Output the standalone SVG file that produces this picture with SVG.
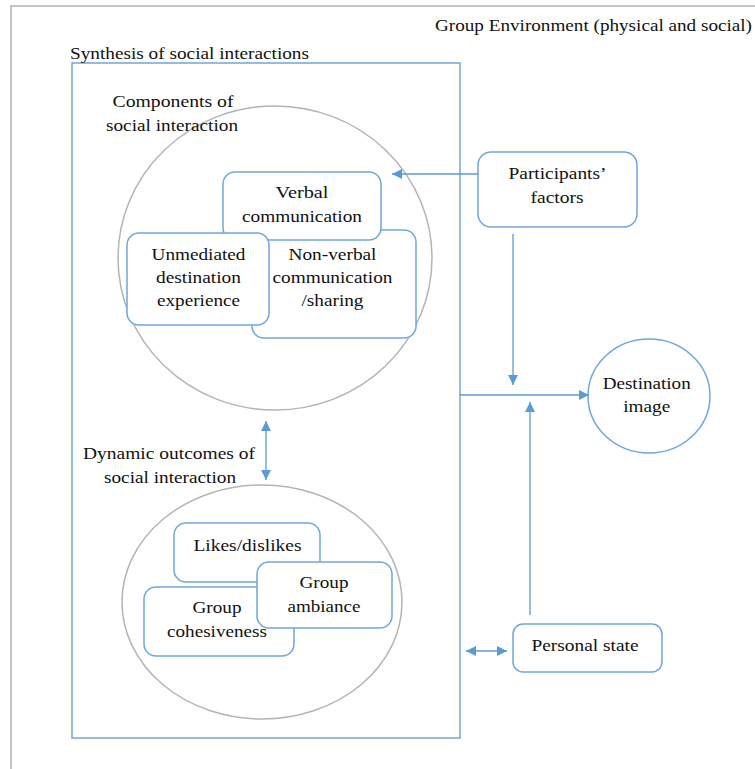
<svg xmlns="http://www.w3.org/2000/svg" width="755" height="769" viewBox="0 0 755 769">
  <defs>
    <marker id="arrow" viewBox="0 0 10 10" refX="10" refY="5" markerWidth="10" markerHeight="10" markerUnits="userSpaceOnUse" orient="auto-start-reverse">
      <path d="M0,0 L10,5 L0,10 Z" fill="#5b9bd5"/>
    </marker>
  </defs>
  <style>
    text { font-family: "Liberation Serif", "Times New Roman", serif; font-size: 17px; fill: #111; }
    .mid { text-anchor: middle; }
    .box { fill: #fff; stroke: #6fa6dc; stroke-width: 1.5; }
    .ring { fill: #fff; stroke: #b4b4b4; stroke-width: 1.5; }
    .wire { fill: none; stroke: #5b9bd5; stroke-width: 1.3; }
    .frame { fill: none; stroke: #c4c4c4; stroke-width: 2; }
  </style>

  <rect width="755" height="769" fill="#fff"/>

  <!-- outer environment frame -->
  <g id="environment">
    <path class="frame" d="M11,769 L11,6 L755,6"/>
    <text x="435" y="31" textLength="317" lengthAdjust="spacingAndGlyphs">Group Environment (physical and social)</text>
  </g>

  <!-- synthesis container -->
  <g id="synthesis">
    <rect x="72" y="63" width="388" height="675" fill="none" stroke="#6fa6dc" stroke-width="1.5"/>
    <text x="70" y="59" textLength="239" lengthAdjust="spacingAndGlyphs">Synthesis of social interactions</text>
  </g>

  <!-- components of social interaction -->
  <g id="components">
    <ellipse class="ring" cx="275" cy="258" rx="157" ry="152"/>
    <text class="mid" x="173" y="107" textLength="121" lengthAdjust="spacingAndGlyphs">Components of</text>
    <text class="mid" x="172" y="131" textLength="132" lengthAdjust="spacingAndGlyphs">social interaction</text>
  </g>
  <g id="nonverbal">
    <rect class="box" x="252" y="230" width="164" height="108" rx="12"/>
    <text class="mid" x="332.5" y="260" textLength="88" lengthAdjust="spacingAndGlyphs">Non-verbal</text>
    <text class="mid" x="332.5" y="283" textLength="120" lengthAdjust="spacingAndGlyphs">communication</text>
    <text class="mid" x="332.5" y="306" textLength="62" lengthAdjust="spacingAndGlyphs">/sharing</text>
  </g>
  <g id="verbal">
    <rect class="box" x="223" y="172" width="158" height="68" rx="12"/>
    <text class="mid" x="302" y="198" textLength="53" lengthAdjust="spacingAndGlyphs">Verbal</text>
    <text class="mid" x="302" y="222" textLength="120" lengthAdjust="spacingAndGlyphs">communication</text>
  </g>
  <g id="unmediated">
    <rect class="box" x="127" y="233" width="142" height="92" rx="12"/>
    <text class="mid" x="198.5" y="260" textLength="94" lengthAdjust="spacingAndGlyphs">Unmediated</text>
    <text class="mid" x="198.5" y="283" textLength="85" lengthAdjust="spacingAndGlyphs">destination</text>
    <text class="mid" x="198.5" y="306" textLength="83" lengthAdjust="spacingAndGlyphs">experience</text>
  </g>

  <!-- dynamic outcomes -->
  <g id="outcomes">
    <ellipse class="ring" cx="262" cy="602" rx="140" ry="117"/>
    <text x="83" y="459" textLength="172" lengthAdjust="spacingAndGlyphs">Dynamic outcomes of</text>
    <text class="mid" x="170" y="483" textLength="132" lengthAdjust="spacingAndGlyphs">social interaction</text>
  </g>
  <g id="likes">
    <rect class="box" x="174" y="523" width="146" height="59" rx="12"/>
    <text class="mid" x="247.5" y="551" textLength="108" lengthAdjust="spacingAndGlyphs">Likes/dislikes</text>
  </g>
  <g id="cohesiveness">
    <rect class="box" x="144" y="587" width="150" height="69" rx="12"/>
    <text class="mid" x="217" y="613" textLength="49" lengthAdjust="spacingAndGlyphs">Group</text>
    <text class="mid" x="217" y="637" textLength="100" lengthAdjust="spacingAndGlyphs">cohesiveness</text>
  </g>
  <g id="ambiance">
    <rect class="box" x="257" y="562" width="135" height="66" rx="12"/>
    <text class="mid" x="324" y="588" textLength="49" lengthAdjust="spacingAndGlyphs">Group</text>
    <text class="mid" x="324" y="612" textLength="73" lengthAdjust="spacingAndGlyphs">ambiance</text>
  </g>

  <!-- external factors -->
  <g id="participants">
    <rect class="box" x="478" y="152" width="159" height="75" rx="13"/>
    <text class="mid" x="557.5" y="179" textLength="98" lengthAdjust="spacingAndGlyphs">Participants’</text>
    <text class="mid" x="557" y="203" textLength="53" lengthAdjust="spacingAndGlyphs">factors</text>
  </g>
  <g id="destination">
    <ellipse class="box" cx="649" cy="396" rx="61" ry="57"/>
    <text class="mid" x="646.7" y="389" textLength="88" lengthAdjust="spacingAndGlyphs">Destination</text>
    <text class="mid" x="646.7" y="412" textLength="47" lengthAdjust="spacingAndGlyphs">image</text>
  </g>
  <g id="personal">
    <rect class="box" x="513" y="624" width="149" height="48" rx="10"/>
    <text class="mid" x="585" y="651" textLength="107" lengthAdjust="spacingAndGlyphs">Personal state</text>
  </g>

  <!-- connectors -->
  <g id="connectors">
    <line class="wire" x1="478" y1="174" x2="392" y2="174" marker-end="url(#arrow)"/>
    <line class="wire" x1="513" y1="234" x2="513" y2="385" marker-end="url(#arrow)"/>
    <line class="wire" x1="460" y1="395" x2="589" y2="395" marker-end="url(#arrow)"/>
    <line class="wire" x1="530" y1="615" x2="530" y2="402" marker-end="url(#arrow)"/>
    <line class="wire" x1="466" y1="651" x2="507" y2="651" marker-start="url(#arrow)" marker-end="url(#arrow)"/>
    <line class="wire" x1="266" y1="421" x2="266" y2="480" marker-start="url(#arrow)" marker-end="url(#arrow)"/>
  </g>
</svg>
